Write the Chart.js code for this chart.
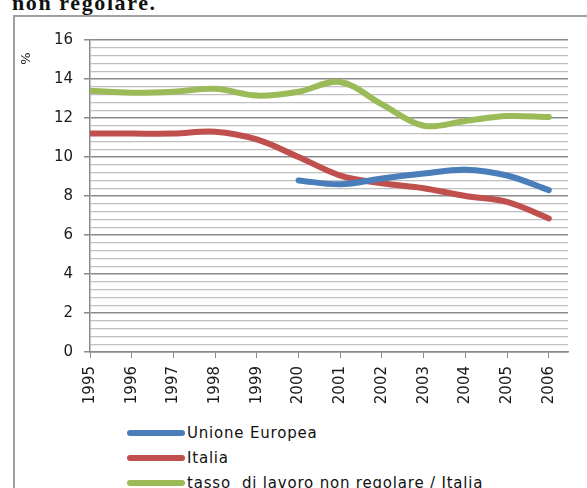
<!DOCTYPE html>
<html>
<head>
<meta charset="utf-8">
<script src="https://cdn.jsdelivr.net/npm/chart.js@4/dist/chart.umd.min.js"></script>
<style>
  html, body { margin: 0; padding: 0; background: #fff; }
  body { width: 587px; height: 488px; position: relative; overflow: hidden; }
  #title { position: absolute; left: 12px; top: -10px; font: bold 22px "Liberation Serif", serif; color: #111; white-space: nowrap; letter-spacing: 1.6px; }
  #frame { position: absolute; left: 13px; top: 15px; width: 620px; height: 520px; border: 2px solid #a0a0a0; box-sizing: border-box; }
  #chart { position: absolute; left: 0; top: 0; }
  #legend { position: absolute; left: 127px; top: 420px; font: 15px "DejaVu Sans", sans-serif; color: #111; letter-spacing: 0.8px; }
  .row { height: 25px; display: flex; align-items: center; white-space: pre; }
  .swatch { width: 58px; height: 6px; border-radius: 3px; margin-right: 2px; }
</style>
</head>
<body>
<div id="title">non regolare.</div>
<div id="frame"></div>
<canvas id="chart" width="587" height="415"></canvas>
<div id="legend"></div>
<script>
// ---- data ----
const years = [1995, 1996, 1997, 1998, 1999, 2000, 2001, 2002, 2003, 2004, 2005, 2006];
const unioneEuropea = [null, null, null, null, null, 8.8, 8.6, 8.9, 9.15, 9.35, 9.05, 8.3];
const italia = [11.2, 11.2, 11.2, 11.3, 10.9, 10.0, 9.05, 8.65, 8.4, 8.0, 7.7, 6.85];
const tassoNonRegolare = [13.4, 13.3, 13.35, 13.5, 13.15, 13.35, 13.85, 12.7, 11.6, 11.85, 12.1, 12.05];
const seriesNames = ["Unione Europea", "Italia", "tasso  di lavoro non regolare / Italia"];
const seriesColors = ["#4a7ebb", "#c0504d", "#9bbb59"];
const yTickLabels = [0, 2, 4, 6, 8, 10, 12, 14, 16];

const allSeries = [unioneEuropea, italia, tassoNonRegolare];
const datasets = allSeries.map((vals, i) => ({
  label: seriesNames[i],
  data: years.map((yr, k) => ({ x: yr, y: vals[k] })),
  borderColor: seriesColors[i],
  backgroundColor: seriesColors[i],
  borderWidth: 6,
  pointRadius: 0,
  tension: 0.35,
  borderCapStyle: 'round',
  borderJoinStyle: 'round',
  spanGaps: false
}));

const MAJOR = '#8a8a8a';
const MINOR = '#c0c0c0';

new Chart(document.getElementById('chart'), {
  type: 'line',
  data: { datasets },
  options: {
    responsive: false,
    animation: false,
    devicePixelRatio: 1,
    layout: { padding: { top: 40, right: 19, left: 0, bottom: 0 } },
    plugins: { legend: { display: false }, tooltip: { enabled: false } },
    scales: {
      x: {
        type: 'linear',
        min: years[0],
        max: years[years.length - 1] + 0.46,
        afterBuildTicks: s => { s.ticks = years.map(v => ({ value: v })); },
        afterFit: s => { s.height = 63; },
        grid: { drawOnChartArea: false, tickLength: 6, color: MAJOR, tickColor: MAJOR },
        border: { color: MAJOR, width: 1.5 },
        ticks: {
          autoSkip: false, maxRotation: 90, minRotation: 90, padding: 8,
          color: '#1a1a1a', font: { family: 'DejaVu Sans', size: 15 },
          callback: v => String(v)
        }
      },
      y: {
        min: 0, max: 16,
        afterBuildTicks: s => {
          const t = [];
          for (let i = 0; i <= 40; i++) t.push({ value: i * 0.4 });
          s.ticks = t;
        },
        afterFit: s => { s.width = 90; },
        grid: {
          tickLength: 6,
          color: c => (c.index % 5 === 0 ? MAJOR : MINOR),
          tickColor: c => (c.index % 5 === 0 ? MAJOR : 'rgba(0,0,0,0)'),
          lineWidth: c => (c.index % 5 === 0 ? 1.5 : 1.2)
        },
        border: { color: MAJOR, width: 1.5 },
        ticks: {
          autoSkip: false, padding: 11,
          color: '#1a1a1a', font: { family: 'DejaVu Sans', size: 15 },
          callback: (v, i) => (i % 5 === 0 ? String(yTickLabels[i / 5]) : '')
        },
        title: {
          display: true, text: '%   ', align: 'end',
          padding: { top: 19, bottom: 0 },
          color: '#222', font: { family: 'DejaVu Sans', size: 13 }
        }
      }
    }
  }
});

// HTML legend built from the same series arrays
const leg = document.getElementById('legend');
seriesNames.forEach((name, i) => {
  const row = document.createElement('div');
  row.className = 'row';
  const sw = document.createElement('span');
  sw.className = 'swatch';
  sw.style.background = seriesColors[i];
  const tx = document.createElement('span');
  tx.textContent = name;
  row.appendChild(sw);
  row.appendChild(tx);
  leg.appendChild(row);
});
</script>
</body>
</html>
